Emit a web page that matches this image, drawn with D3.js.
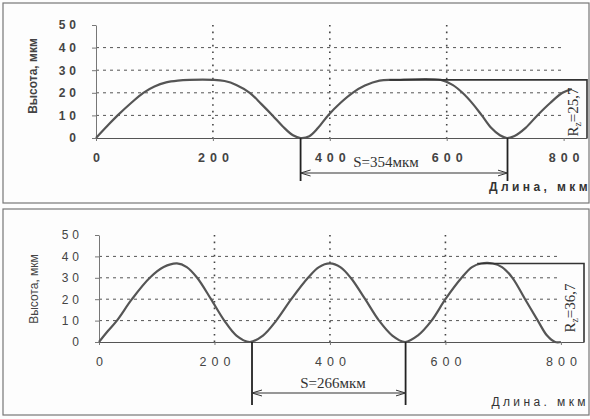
<!DOCTYPE html>
<html>
<head>
<meta charset="utf-8">
<script src="https://cdn.jsdelivr.net/npm/d3@7"></script>
<style>
  body { margin: 0; background: #fdfdfd; }
  svg { display: block; }
  .tick text { fill: #444; }
</style>
</head>
<body>
<div class="chart"></div>
<script>
// profile 1 (top): length, мкм / height, мкм
const topLength = [0, 20, 37, 60, 81, 100, 120, 140, 160, 200, 220, 240, 263, 283, 302, 320, 337, 350, 365, 380, 397, 418, 439, 460, 485, 510, 590, 610, 627, 645, 660, 676, 691, 703, 716, 735, 755, 777, 798, 814];
const topHeight = [0, 5.5, 10, 15.5, 20, 22.8, 24.6, 25.4, 25.7, 25.7, 25.2, 23.5, 20, 15, 10, 5, 1.2, 0, 0.8, 4.5, 10, 15.5, 20, 23.2, 25.4, 25.7, 25.7, 23.5, 20, 15, 10, 4.5, 1.2, 0, 0.9, 4.5, 10, 15.5, 20, 21.7];

// profile 2 (bottom)
const bottomLength = [0, 15, 31, 57, 88, 112, 135, 152, 170, 194, 217, 238, 261, 284, 307, 333, 362, 381, 400, 418, 436, 461, 485, 508, 530, 552, 576, 600, 628, 646, 662, 682, 698, 716, 738, 760, 776, 790, 800];
const bottomHeight = [0, 5, 10, 20, 30, 35, 36.7, 35, 30, 20, 10, 3, 0, 3, 10, 20, 30, 35, 36.7, 35, 30, 20, 10, 3, 0, 3, 10, 20, 30, 35, 36.7, 36.7, 35, 30, 20, 10, 3, 0, 0];

const xTicks = [0, 200, 400, 600, 800];
const yTicks = [0, 10, 20, 30, 40, 50];
const xGrid = [200, 400, 600];
const yGrid = [10, 20, 30, 40];

// annotations: step S (start, end) and Rz
const topS = [350, 704];
const topSLabel = "S=354мкм";
const topRz = 25.7;
const topRzFrom = 502;
const bottomS = [265, 531];
const bottomSLabel = "S=266мкм";
const bottomRz = 36.7;
const bottomRzFrom = 655;

const W = 590, H = 419;

const svg = d3.select(".chart")
  .append("svg")
  .attr("width", W)
  .attr("height", H);

const defs = svg.append("defs");
defs.append("marker")
  .attr("id", "arr")
  .attr("viewBox", "0 0 10 8")
  .attr("refX", 10)
  .attr("refY", 4)
  .attr("markerWidth", 10)
  .attr("markerHeight", 8)
  .attr("markerUnits", "userSpaceOnUse")
  .attr("orient", "auto-start-reverse")
  .append("path")
  .attr("d", "M0,1 L10,4 L0,7")
  .attr("fill", "none")
  .attr("stroke", "#333")
  .attr("stroke-width", 1);

function drawPanel(p) {
  const g = svg.append("g");

  // frame
  g.append("rect")
    .attr("x", p.frame[0]).attr("y", p.frame[1])
    .attr("width", p.frame[2]).attr("height", p.frame[3])
    .attr("fill", "none")
    .attr("stroke", "#777")
    .attr("stroke-width", 1.2);

  const x = d3.scaleLinear().domain([0, 840]).range(p.xRange);
  const y = d3.scaleLinear().domain([0, 50]).range(p.yRange);

  // grid
  g.selectAll(".hgrid")
    .data(yGrid)
    .enter()
    .append("line")
    .attr("class", "hgrid")
    .attr("x1", x(0)).attr("x2", x(800))
    .attr("y1", d => y(d)).attr("y2", d => y(d))
    .attr("stroke", "#555")
    .attr("stroke-width", 1)
    .attr("stroke-dasharray", "3,4");

  g.selectAll(".vgrid")
    .data(xGrid)
    .enter()
    .append("line")
    .attr("class", "vgrid")
    .attr("x1", d => x(d)).attr("x2", d => x(d))
    .attr("y1", y(50)).attr("y2", y(0))
    .attr("stroke", "#444")
    .attr("stroke-width", 1.6)
    .attr("stroke-dasharray", "1.6,5");

  // axes
  const yAxis = d3.axisLeft(y).tickValues(yTicks).tickSize(4).tickSizeOuter(0).tickPadding(12);
  const ya = g.append("g")
    .attr("transform", `translate(${x(0)},0)`)
    .call(yAxis);
  ya.select(".domain").attr("stroke", "#777");
  ya.selectAll(".tick line").attr("stroke", "#777");
  ya.selectAll("text")
    .attr("font-family", "Liberation Sans, Arial, sans-serif")
    .attr("font-size", 12)
    .attr("font-weight", p.bold ? "bold" : "normal")
    .attr("letter-spacing", 4);

  const xAxis = d3.axisBottom(x).tickValues(xTicks).tickSize(3).tickSizeOuter(0).tickPadding(12);
  const xa = g.append("g")
    .attr("transform", `translate(0,${y(0)})`)
    .call(xAxis);
  xa.select(".domain").attr("stroke", "#555").attr("stroke-width", 1.2);
  xa.selectAll(".tick line").attr("stroke", "#777");
  xa.selectAll("text")
    .attr("font-family", "Liberation Sans, Arial, sans-serif")
    .attr("font-size", 12.5)
    .attr("font-weight", p.bold ? "bold" : "normal")
    .attr("letter-spacing", 5)
    .attr("dx", 2.5);

  // profile curve
  const line = d3.line()
    .x((d, i) => x(p.len[i]))
    .y(d => y(d))
    .curve(d3.curveCatmullRom.alpha(0.5));

  g.append("path")
    .datum(p.h)
    .attr("d", line)
    .attr("fill", "none")
    .attr("stroke", "#555")
    .attr("stroke-width", 2.2);

  // Rz box
  g.append("path")
    .attr("d", `M${x(p.rzFrom)},${y(p.rz)} H${x(840)} V${y(0)}`)
    .attr("fill", "none")
    .attr("stroke", "#333")
    .attr("stroke-width", 1.6);

  const rzText = g.append("text")
    .attr("transform", `translate(${x(840) - 9},${p.rzY}) rotate(-90)`)
    .attr("text-anchor", "middle")
    .attr("font-family", "Liberation Serif, Times New Roman, serif")
    .attr("font-size", 15)
    .attr("fill", "#333");
  rzText.append("tspan").text("R");
  rzText.append("tspan").attr("font-size", 10).attr("dy", 3).text("z");
  rzText.append("tspan").attr("dy", -3).text("=" + p.rz.toString().replace(".", ","));

  // step S
  g.selectAll(".sline")
    .data(p.s)
    .enter()
    .append("line")
    .attr("class", "sline")
    .attr("x1", d => x(d)).attr("x2", d => x(d))
    .attr("y1", y(0)).attr("y2", y(0) + p.sDrop)
    .attr("stroke", "#222")
    .attr("stroke-width", 1.8);

  g.append("line")
    .attr("x1", x(p.s[0])).attr("x2", x(p.s[1]))
    .attr("y1", y(0) + p.sArrow).attr("y2", y(0) + p.sArrow)
    .attr("stroke", "#333")
    .attr("stroke-width", 1.2)
    .attr("marker-start", "url(#arr)")
    .attr("marker-end", "url(#arr)");

  g.append("text")
    .attr("x", p.sTextX)
    .attr("y", y(0) + p.sTextY)
    .attr("text-anchor", "middle")
    .attr("font-family", "Liberation Serif, Times New Roman, serif")
    .attr("font-size", 15)
    .attr("fill", "#333")
    .text(p.sLabel);

  // axis titles
  g.append("text")
    .attr("transform", `translate(${p.yTitle[0]},${p.yTitle[1]}) rotate(-90)`)
    .attr("text-anchor", "middle")
    .attr("font-family", "Liberation Sans, Arial, sans-serif")
    .attr("font-size", 12)
    .attr("font-weight", p.bold ? "bold" : "normal")
    .attr("fill", "#444")
    .text("Высота, мкм");

  g.append("text")
    .attr("x", p.xTitle[0])
    .attr("y", p.xTitle[1])
    .attr("text-anchor", "end")
    .attr("font-family", "Liberation Sans, Arial, sans-serif")
    .attr("font-size", 12)
    .attr("font-weight", p.bold ? "bold" : "normal")
    .attr("letter-spacing", 3.4)
    .attr("fill", "#333")
    .text(p.xTitleText);
}

drawPanel({
  frame: [3, 3, 586, 200],
  xRange: [96, 587],
  yRange: [138, 25],
  len: topLength,
  h: topHeight,
  rz: topRz,
  rzFrom: topRzFrom,
  rzY: 112,
  s: topS,
  sLabel: topSLabel,
  sDrop: 43,
  sArrow: 35,
  sTextX: 386,
  sTextY: 29,
  yTitle: [37, 76],
  xTitle: [591, 191],
  xTitleText: "Длина, мкм",
  bold: true
});

drawPanel({
  frame: [3, 209, 586, 206],
  xRange: [99, 584],
  yRange: [342, 235],
  len: bottomLength,
  h: bottomHeight,
  rz: bottomRz,
  rzFrom: bottomRzFrom,
  rzY: 308,
  s: bottomS,
  sLabel: bottomSLabel,
  sDrop: 63,
  sArrow: 51,
  sTextX: 333,
  sTextY: 46,
  yTitle: [38, 289],
  xTitle: [589, 406],
  xTitleText: "Длина. мкм",
  bold: false
});
</script>
</body>
</html>
